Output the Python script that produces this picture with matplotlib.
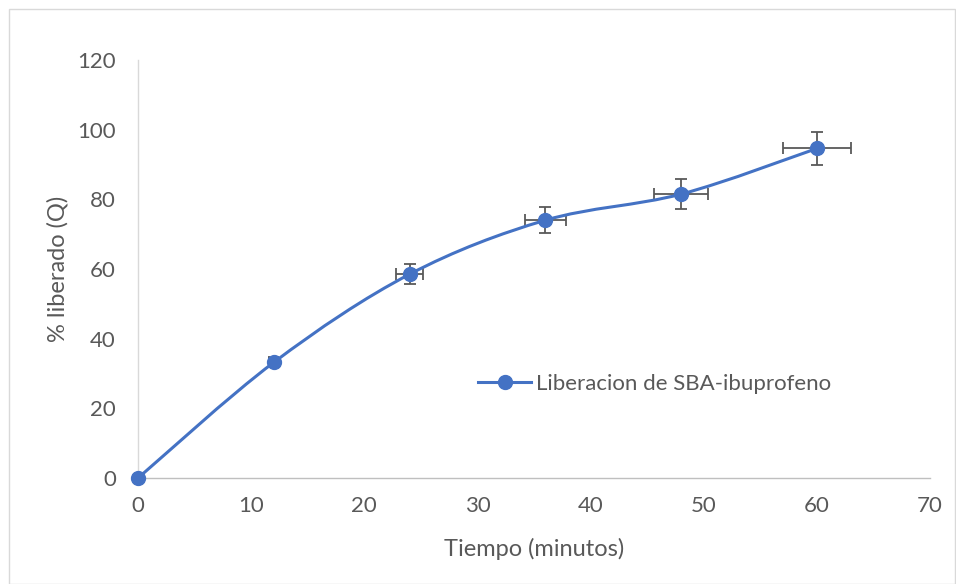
import numpy as np
import matplotlib
matplotlib.use("Agg")
import matplotlib.pyplot as plt
from matplotlib.path import Path
from matplotlib.patches import PathPatch, Rectangle

# datos
tiempo = [0, 12, 24, 36, 48, 60]
liberado = [0, 33.2, 58.5, 74.0, 81.5, 94.6]
err_tiempo = [0, 0.4, 1.2, 1.8, 2.4, 3.0]
err_liberado = [0, 1.2, 2.9, 3.7, 4.4, 4.7]

x_ticks = [0, 10, 20, 30, 40, 50, 60, 70]
y_ticks = [0, 20, 40, 60, 80, 100, 120]

azul = "#4472C4"
gris = "#595959"

plt.rcParams['font.family'] = ['Lato', 'DejaVu Sans']


def smooth_path(xs, ys):
    # curva suavizada tipo Excel (bezier con tangentes de Catmull-Rom)
    pts = np.column_stack([xs, ys]).astype(float)
    n = len(pts)
    verts = [pts[0]]
    codes = [Path.MOVETO]
    for i in range(n - 1):
        p0 = pts[max(i - 1, 0)]
        p1 = pts[i]
        p2 = pts[i + 1]
        p3 = pts[min(i + 2, n - 1)]
        c1 = p1 + (p2 - p0) / 6.0
        c2 = p2 - (p3 - p1) / 6.0
        verts += [c1, c2, p2]
        codes += [Path.CURVE4] * 3
    return Path(verts, codes)


fig = plt.figure(figsize=(9.56, 5.84), dpi=100)
ax = fig.add_axes([0.1444, 0.1815, 0.8285, 0.7158])

fig.patches.append(Rectangle((0.009, 0.0), 0.99, 0.984, transform=fig.transFigure,
                             fill=False, edgecolor="#d9d9d9", linewidth=1.0))

ax.add_patch(PathPatch(smooth_path(tiempo, liberado), fill=False,
                       edgecolor=azul, linewidth=2.2, zorder=3, clip_on=False))
ax.errorbar(tiempo, liberado, xerr=err_tiempo, yerr=err_liberado, fmt="none",
            ecolor=gris, elinewidth=1.3, capsize=4, capthick=1.3, zorder=2)
ax.plot(tiempo, liberado, linestyle="none", marker="o", markersize=10,
        color=azul, zorder=4, clip_on=False)
ax.plot([], [], color=azul, linewidth=2.2, marker="o", markersize=10,
        label="Liberacion de SBA-ibuprofeno")

ax.set_xlim(0, 70)
ax.set_ylim(0, 120)
ax.set_xticks(x_ticks)
ax.set_yticks(y_ticks)
ax.tick_params(length=0, labelsize=16, labelcolor=gris)
ax.tick_params(axis="y", pad=16)
ax.tick_params(axis="x", pad=13)

for s in ["top", "right"]:
    ax.spines[s].set_visible(False)
ax.spines["left"].set_color("#d9d9d9")
ax.spines["bottom"].set_color("#bfbfbf")
ax.spines["left"].set_linewidth(1.0)
ax.spines["bottom"].set_linewidth(1.0)

ax.set_xlabel("Tiempo (minutos)", fontsize=17, color=gris, labelpad=16)
ax.set_ylabel("% liberado (Q)", fontsize=17, color=gris, labelpad=6)

ax.legend(loc="center left", bbox_to_anchor=(0.415, 0.225), frameon=False,
          fontsize=16, labelcolor=gris, handlelength=2.4, handletextpad=0.22,
          borderpad=0)

fig.savefig("out.png", dpi=100)
